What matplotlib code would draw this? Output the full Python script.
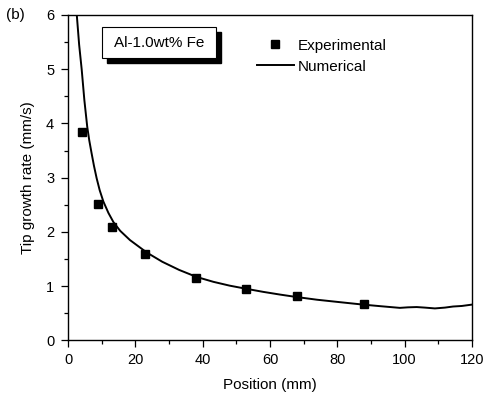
import matplotlib
matplotlib.use("Agg")
import matplotlib.pyplot as plt
from matplotlib.ticker import MultipleLocator
from matplotlib.patches import Rectangle

plt.rcParams['font.family'] = ['Liberation Sans', 'DejaVu Sans']

exp_x = [4, 9, 13, 23, 38, 53, 68, 88]
exp_y = [3.85, 2.52, 2.1, 1.6, 1.15, 0.95, 0.82, 0.68]

num_x = [2.6, 3.3, 4.05, 4.85, 5.7, 6.3, 7.0, 7.7, 8.5, 9.4, 10.5, 12, 13.5, 15.5, 18.4,
         23.4, 28, 33, 38.2, 43.2, 48, 53.1, 58, 63, 67.9, 74, 80.8, 87.7, 93, 98.6,
         101, 103.6, 106, 109, 112, 114.4, 117, 120]
num_y = [6.0, 5.45, 5.0, 4.43, 3.94, 3.69, 3.45, 3.22, 2.99, 2.77, 2.56, 2.35, 2.18, 2.02, 1.85,
         1.62, 1.45, 1.30, 1.17, 1.08, 1.01, 0.95, 0.895, 0.845, 0.80, 0.75, 0.705, 0.66, 0.63, 0.60,
         0.61, 0.615, 0.605, 0.59, 0.605, 0.625, 0.635, 0.66]

fig = plt.figure(figsize=(4.86, 3.94), dpi=100)
ax = fig.add_axes([0.140, 0.136, 0.831, 0.826])

ax.plot(num_x, num_y, color='black', lw=1.4, label='Numerical', zorder=2)
ax.plot(exp_x, exp_y, linestyle='none', marker='s', ms=6, color='black',
        label='Experimental', zorder=3)

ax.set_xlim(0, 120)
ax.set_ylim(0, 6)
ax.xaxis.set_major_locator(MultipleLocator(20))
ax.xaxis.set_minor_locator(MultipleLocator(10))
ax.yaxis.set_major_locator(MultipleLocator(1))
ax.yaxis.set_minor_locator(MultipleLocator(0.5))
ax.tick_params(which='major', direction='out', length=5, width=0.9, labelsize=10.5)
ax.tick_params(axis='y', which='major', pad=5)
ax.tick_params(axis='x', which='major', pad=4)
ax.tick_params(which='minor', direction='out', length=3, width=0.9)
ax.tick_params(top=False, right=False)
for s in ax.spines.values():
    s.set_linewidth(1.0)

ax.set_xlabel('Position (mm)', fontsize=11, labelpad=8)
ax.set_ylabel('Tip growth rate (mm/s)', fontsize=11, labelpad=8)

handles, labels = ax.get_legend_handles_labels()
leg = ax.legend([handles[1], handles[0]], [labels[1], labels[0]],
                loc='upper left', bbox_to_anchor=(0.468, 0.927), frameon=False,
                fontsize=11, handlelength=2.4, handletextpad=0.25, labelspacing=0.45,
                borderaxespad=0, borderpad=0)

# annotation box with shadow
x0, y0 = 101.7 / 486, 1 - 58.3 / 394
w, h = (216 - 101.7) / 486, (58.3 - 27.3) / 394
fig.patches.append(Rectangle((x0 + 5 / 486, y0 - 4.5 / 394), w, h, transform=fig.transFigure,
                             facecolor='black', edgecolor='black', zorder=5))
fig.patches.append(Rectangle((x0, y0), w, h, transform=fig.transFigure,
                             facecolor='white', edgecolor='black', lw=0.8, zorder=6))
fig.text(x0 + w / 2, y0 + h / 2, 'Al-1.0wt% Fe', ha='center', va='center',
         fontsize=11, zorder=7)

fig.text(15 / 486, 1 - 15 / 394, '(b)', ha='center', va='center', fontsize=11)

fig.savefig('out.png', dpi=100)
